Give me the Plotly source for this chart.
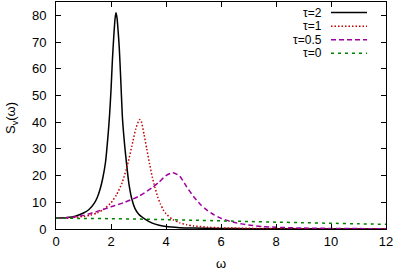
import plotly.graph_objects as go

# tau = 2
w_t2 = [0.0, 0.4, 0.7, 1.0, 1.2, 1.4, 1.5, 1.6, 1.7, 1.8, 1.9, 1.95, 2.0, 2.05, 2.1, 2.15, 2.18,
        2.22, 2.26, 2.3, 2.35, 2.42, 2.5, 2.57, 2.65, 2.75, 2.87, 3.0, 3.25, 3.5, 3.75, 4.0,
        4.5, 5.0, 6.0, 7.0, 8.0, 10.0, 12.0]
s_t2 = [4.0, 4.3, 4.8, 6.0, 7.3, 9.8, 11.8, 14.8, 19.0, 25.0, 36.0, 43.0, 52.0, 63.0, 72.0, 79.0, 81.0,
        79.0, 74.0, 68.0, 57.0, 41.0, 31.0, 24.0, 17.0, 11.5, 7.7, 5.6, 3.6, 2.2, 1.4, 0.9,
        0.5, 0.35, 0.2, 0.13, 0.09, 0.05, 0.03]

# tau = 1
w_t1 = [0.0, 0.5, 1.0, 1.25, 1.5, 1.75, 2.0, 2.2, 2.4, 2.6, 2.8, 2.9, 3.0, 3.05, 3.1, 3.2, 3.3,
        3.4, 3.5, 3.6, 3.7, 3.8, 3.9, 4.0, 4.25, 4.5, 4.75, 5.0, 5.5, 6.0, 7.0, 8.0, 10.0, 12.0]
s_t1 = [4.0, 4.2, 4.7, 5.2, 6.0, 7.5, 9.8, 12.8, 17.2, 24.0, 33.0, 37.5, 40.3, 41.0, 40.3, 35.5, 30.0,
        24.5, 19.5, 15.5, 12.0, 9.3, 7.2, 5.7, 3.5, 2.3, 1.6, 1.15, 0.7, 0.45, 0.25, 0.16, 0.08, 0.05]

# tau = 0.5
w_t05 = [0.0, 0.5, 1.0, 1.5, 2.0, 2.5, 3.0, 3.5, 3.75, 4.0, 4.25, 4.5, 4.75, 5.0, 5.25, 5.5,
         5.75, 6.0, 6.5, 7.0, 7.5, 8.0, 9.0, 10.0, 11.0, 12.0]
s_t05 = [4.0, 4.3, 5.1, 6.6, 8.3, 10.0, 12.2, 15.5, 17.6, 20.0, 21.1, 19.8, 15.8, 12.2, 9.2, 7.0,
         5.3, 4.0, 2.4, 1.5, 0.9, 0.65, 0.35, 0.22, 0.15, 0.1]

# tau = 0
w_t0 = [0, 1, 2, 3, 4, 5, 6, 7, 8, 9, 10, 11, 12]
s_t0 = [4.0, 3.97, 3.87, 3.71, 3.5, 3.28, 3.05, 2.8, 2.57, 2.35, 2.15, 1.95, 1.77]

labels = ["τ=2", "τ=1", "τ=0.5", "τ=0"]
colors = ["#000000", "#c00000", "#a000a0", "#008000"]
dashes = ["solid", "1.5px,2px", "5px,3px", "3px,4px"]

x_ticks = [0, 2, 4, 6, 8, 10, 12]
y_ticks = [0, 10, 20, 30, 40, 50, 60, 70, 80]

FONT = "Liberation Sans, Arial, sans-serif"

fig = go.Figure()
series = [(w_t2, s_t2), (w_t1, s_t1), (w_t05, s_t05), (w_t0, s_t0)]
for (w, s), lab, c, d in zip(series, labels, colors, dashes):
    fig.add_trace(go.Scatter(x=w, y=s, mode="lines", name=lab,
                             line=dict(color=c, width=1.5, dash=d, shape="spline", smoothing=0.6),
                             showlegend=False))

# legend (gnuplot style: text left of sample)
L, R, T, B = 56, 386, 2, 229
def px_to_paper(px, py):
    return (px - L) / (R - L), (B - py) / (B - T)

rows_y = [12.5, 26.2, 39.8, 53.3]
for lab, c, d, ry in zip(labels, colors, dashes, rows_y):
    tx, ty = px_to_paper(324, ry)
    fig.add_annotation(x=tx, y=ty, xref="paper", yref="paper", text=lab, showarrow=False,
                       xanchor="right", yanchor="middle", font=dict(family=FONT, size=12, color="black"))
    x0, y0 = px_to_paper(331, ry)
    x1, _ = px_to_paper(367, ry)
    fig.add_shape(type="line", xref="paper", yref="paper", x0=x0, x1=x1, y0=y0, y1=y0,
                  line=dict(color=c, width=1.5, dash=d))

# axis titles as annotations
ax, ay = px_to_paper(221, 263)
fig.add_annotation(x=ax, y=ay, xref="paper", yref="paper", text="ω", showarrow=False,
                   xanchor="center", yanchor="middle", font=dict(family=FONT, size=13, color="black"))
bx, by = px_to_paper(11, 118)
fig.add_annotation(x=bx, y=by, xref="paper", yref="paper", text="S<sub>v</sub>(ω)", showarrow=False,
                   textangle=-90, xanchor="center", yanchor="middle",
                   font=dict(family=FONT, size=13, color="black"))

axis_common = dict(showgrid=False, zeroline=False, showline=True, linecolor="black", linewidth=1,
                   mirror="allticks", ticks="inside", ticklen=5, tickcolor="black", automargin=False,
                   tickfont=dict(family=FONT, size=13, color="black"))

fig.update_xaxes(range=[0, 12], tickvals=x_ticks, **axis_common)
fig.update_yaxes(range=[0, 85], tickvals=y_ticks, **axis_common, ticklabelstandoff=6)

fig.update_layout(width=395, height=270, margin=dict(l=56, r=9, t=2, b=41),
                  paper_bgcolor="white", plot_bgcolor="white", showlegend=False)

fig.write_html("out.html", config={"displayModeBar": False, "staticPlot": True},
               post_script="document.body.style.margin='0';document.body.style.overflow='hidden';")
